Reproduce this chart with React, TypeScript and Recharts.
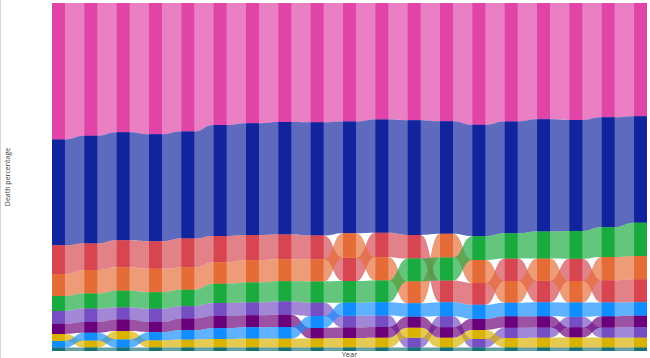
import { ComposedChart, Area, XAxis, YAxis } from 'recharts';

// Anos (sem rótulos visíveis no eixo)
const years = [
  '2000', '2001', '2002', '2003', '2004', '2005', '2006', '2007', '2008', '2009',
  '2010', '2011', '2012', '2013', '2014', '2015', '2016', '2017', '2018',
];

// Percentual de mortes por causa, ano a ano
const cardiovascular = [39.2, 37.9, 36.9, 37.7, 36.7, 34.9, 34.4, 34.1, 34.1, 33.9, 33.4, 33.6, 33.9, 34.8, 33.8, 33.1, 33.1, 32.5, 32.2];
const cancers = [30.4, 30.7, 30.8, 30.7, 30.5, 31.7, 32.0, 32.3, 32.4, 32.0, 32.5, 32.9, 32.3, 31.8, 31.9, 31.9, 31.4, 31.2, 30.3];
const respiratory = [8.3, 7.6, 7.7, 7.9, 8.3, 7.5, 7.2, 7.1, 6.8, 6.7, 7.0, 6.8, 6.2, 6.2, 6.4, 6.1, 6.3, 6.3, 6.5];
const digestive = [6.3, 6.7, 6.7, 6.7, 6.3, 6.2, 6.4, 6.3, 6.3, 7.0, 6.7, 6.3, 6.8, 6.6, 6.2, 6.3, 6.1, 6.6, 6.6];
const dementia = [4.3, 4.3, 4.8, 4.8, 4.7, 5.5, 5.7, 5.8, 6.1, 6.2, 6.2, 6.5, 6.6, 6.8, 7.2, 7.7, 7.9, 8.5, 9.5];
const diabetes = [3.7, 3.8, 3.4, 3.8, 3.5, 3.7, 3.7, 3.8, 3.8, 3.4, 3.3, 2.8, 3.2, 2.4, 2.9, 2.9, 3.0, 2.9, 3.0];
const kidney = [2.9, 3.1, 3.3, 2.9, 3.4, 3.5, 3.4, 3.5, 3.0, 3.0, 3.1, 3.2, 3.0, 3.2, 3.3, 3.2, 2.9, 3.2, 3.3];
const liver = [2.0, 2.0, 2.4, 2.1, 2.3, 2.4, 2.6, 2.6, 2.6, 2.7, 2.8, 2.9, 2.8, 2.6, 2.7, 2.8, 2.8, 2.8, 2.8];
const injuries = [1.9, 2.2, 2.3, 2.3, 2.6, 3.1, 3.2, 3.3, 3.4, 3.7, 3.8, 3.8, 4.0, 4.0, 3.9, 4.0, 4.0, 3.9, 3.8];
const infections = [1.0, 1.0, 1.0, 1.0, 1.0, 1.0, 1.0, 1.0, 1.0, 1.0, 1.0, 1.0, 1.0, 1.0, 1.0, 1.0, 1.0, 1.0, 1.0];

const series = [
  { key: 'cardiovascular', color: '#E044A7', values: cardiovascular },
  { key: 'cancers', color: '#12239E', values: cancers },
  { key: 'respiratory', color: '#D64550', values: respiratory },
  { key: 'digestive', color: '#E66C37', values: digestive },
  { key: 'dementia', color: '#1AAB40', values: dementia },
  { key: 'diabetes', color: '#744EC2', values: diabetes },
  { key: 'kidney', color: '#6B007B', values: kidney },
  { key: 'liver', color: '#D9B300', values: liver },
  { key: 'injuries', color: '#118DFF', values: injuries },
  { key: 'infections', color: '#197278', values: infections },
];

const HALF = 0.2; // meia largura da coluna, em unidades do eixo x

// Monta as linhas: cada ano tem borda esquerda e direita da coluna,
// e um ponto vazio no meio para quebrar as colunas
function buildRows() {
  const rows: any[] = [];
  years.forEach((year, i) => {
    const total = series.reduce((sum, s) => sum + s.values[i], 0);
    const ranked = [...series].sort((a, b) => a.values[i] - b.values[i]);
    const band: Record<string, number[]> = {};
    let acc = 0;
    ranked.forEach((s) => {
      const pct = (s.values[i] / total) * 100;
      band[s.key] = [acc, acc + pct];
      acc += pct;
    });
    const left: any = { x: i - HALF, year };
    const right: any = { x: i + HALF, year };
    series.forEach((s) => {
      left['rib_' + s.key] = band[s.key];
      right['rib_' + s.key] = band[s.key];
      left['bar_' + s.key] = band[s.key];
      right['bar_' + s.key] = band[s.key];
    });
    rows.push(left, right);
    if (i < years.length - 1) {
      const gap: any = { x: i + 0.5 };
      series.forEach((s) => {
        gap['bar_' + s.key] = null;
      });
      rows.push(gap);
    }
  });
  return rows;
}

const data = buildRows();

const labelStyle = { fontFamily: '"Segoe UI", "Open Sans", sans-serif', fontSize: 7.5, fill: '#3b3a39' };

export default function App() {
  return (
    <div style={{ position: 'absolute', left: 0, top: 0, width: 650, height: 358, background: '#fff', borderLeft: '1px solid #d6d6d6', boxSizing: 'border-box' }}>
      <ComposedChart width={649} height={358} data={data} margin={{ top: 3, right: 3, bottom: 0, left: 0 }}>
        <XAxis
          dataKey="x"
          type="number"
          domain={[-HALF, years.length - 1 + HALF]}
          allowDataOverflow
          height={7}
          tick={false}
          tickLine={false}
          axisLine={false}
          label={{ value: 'Year', position: 'insideBottom', offset: 1, style: labelStyle }}
        />
        <YAxis
          type="number"
          domain={[0, 100]}
          allowDataOverflow
          width={51}
          tick={false}
          tickLine={false}
          axisLine={false}
          label={{ value: 'Death percentage', angle: -90, position: 'insideLeft', offset: 7, style: { ...labelStyle, fontSize: 7, textAnchor: 'middle' } }}
        />
        {series.map((s) => (
          <Area
            key={'rib_' + s.key}
            dataKey={'rib_' + s.key}
            type="bumpX"
            fill={s.color}
            fillOpacity={0.68}
            stroke="none"
            connectNulls
            dot={false}
            activeDot={false}
            isAnimationActive={false}
          />
        ))}
        {series.map((s) => (
          <Area
            key={'bar_' + s.key}
            dataKey={'bar_' + s.key}
            type="linear"
            fill={s.color}
            fillOpacity={1}
            stroke="none"
            connectNulls={false}
            dot={false}
            activeDot={false}
            isAnimationActive={false}
          />
        ))}
      </ComposedChart>
    </div>
  );
}
